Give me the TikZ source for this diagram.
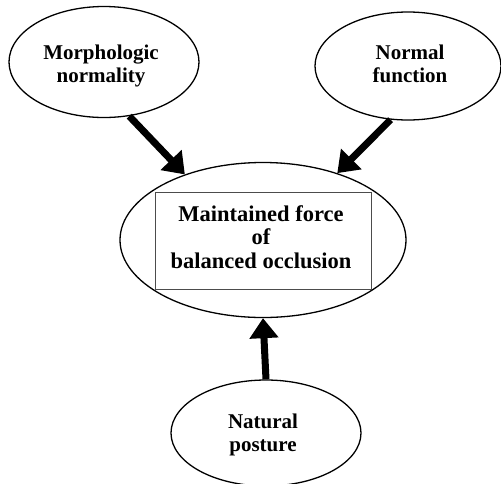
\documentclass[tikz,border=0pt]{standalone}
\usepackage{fontspec}
\setmainfont{Liberation Serif}
\usetikzlibrary{shapes.geometric,arrows.meta}
\begin{document}
\begin{tikzpicture}[x=1pt,y=-1pt,
  oval/.style={draw,ellipse,line width=1.3pt,inner sep=0pt},
  lbl/.style={align=center,font=\bfseries\fontsize{21}{23.5}\selectfont},
  fat/.style={line width=7pt,-{Triangle[width=28pt,length=20pt]}}]
\useasboundingbox (0,0) rectangle (501,483);
\node[oval,minimum width=190pt,minimum height=111pt] (morph) at (104,62) {};
\node[lbl] at (101,66) {Morphologic\\normality};
\node[oval,minimum width=186pt,minimum height=108pt] (func) at (408,66) {};
\node[lbl] at (410,64) {Normal\\function};
\node[oval,minimum width=286pt,minimum height=155pt] (occl) at (263,240) {};
\node[draw=black!70,line width=0.8pt,minimum width=216pt,minimum height=97pt,inner sep=0pt] (box) at (263,241) {};
\node[lbl,font=\bfseries\fontsize{22.5}{23.5}\selectfont] (boxtext) at (261,237) {Maintained force\\of\\balanced occlusion};
\node[oval,minimum width=190pt,minimum height=106pt] (post) at (266,433) {};
\node[lbl] at (263,435) {Natural\\posture};
\draw[fat] (morph.-65) -- (occl.140);
\draw[fat] (func.-108) -- (occl.42);
\draw[fat] (post.north) -- (occl.south);
\end{tikzpicture}
\end{document}
